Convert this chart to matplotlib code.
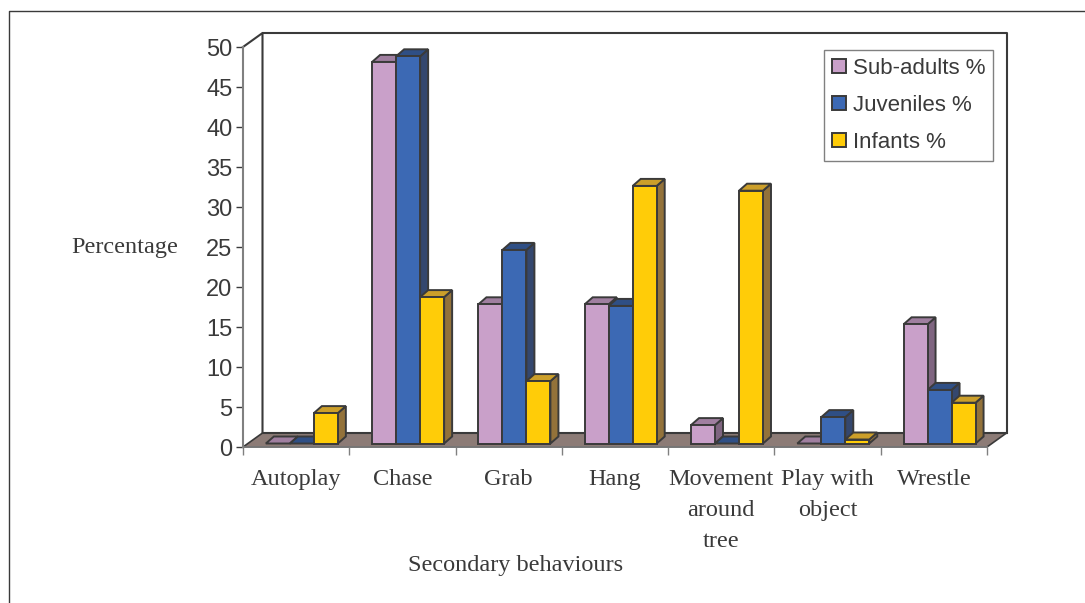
import matplotlib
matplotlib.use('Agg')
import matplotlib.pyplot as plt
from matplotlib.patches import Patch
from matplotlib.lines import Line2D

categories = ['Autoplay', 'Chase', 'Grab', 'Hang', 'Movement\naround\ntree', 'Play with\nobject', 'Wrestle']
sub_adults = [0, 47.7, 17.4, 17.4, 2.3, 0, 14.9]
juveniles = [0, 48.4, 24.2, 17.2, 0, 3.3, 6.7]
infants = [3.8, 18.3, 7.8, 32.2, 31.6, 0.5, 5.1]
series_names = ['Sub-adults %', 'Juveniles %', 'Infants %']
yticks = list(range(0, 55, 5))

# front, top, side colours of each series
colours = [('#c9a0c9', '#a07fa0', '#7f6580'),
           ('#3c69b4', '#2f4f85', '#34476e'),
           ('#ffcc08', '#cc9f2a', '#93723a')]
dark = '#3a3a3a'
gray = '#808080'

W, H = 1085, 603
fig = plt.figure(figsize=(W / 100, H / 100), dpi=100)
# axes = front plane of the fake 3d box
ax = fig.add_axes([243 / W, 1 - 447 / H, 744 / W, 400 / H])
ax.set_xlim(0, 7)
ax.set_ylim(0, 50)
px_x = 7 / 744
px_y = 50 / 400

# depth of the box and of the bars, given in pixels
wall_dx, wall_dy = 19.5 * px_x, 14 * px_y
bar_dx, bar_dy = 8 * px_x, 7 * px_y
base = 3.5 * px_y
bar_w = 24 * px_x
start = 0.215

# floor and walls
ax.fill([0, wall_dx, 7 + wall_dx, 7], [0, wall_dy, wall_dy, 0],
        facecolor='#8c7b76', edgecolor=dark, lw=1.2, zorder=1, clip_on=False)
ax.plot([0, wall_dx, wall_dx, 7 + wall_dx, 7 + wall_dx],
        [50, 50 + wall_dy, wall_dy, wall_dy, wall_dy], color=dark, lw=1.5, zorder=1.5, clip_on=False)
ax.plot([wall_dx, 7 + wall_dx, 7 + wall_dx], [50 + wall_dy, 50 + wall_dy, wall_dy],
        color=dark, lw=1.5, zorder=1.5, clip_on=False)

# bars
z = 2
for i in range(len(categories)):
    for j, values in enumerate([sub_adults, juveniles, infants]):
        v = values[i]
        x0 = i + start + j * bar_w
        x1 = x0 + bar_w
        top = base + v
        front, roof, side = colours[j]
        ax.fill([x1, x1 + bar_dx, x1 + bar_dx, x1], [base, base + bar_dy, top + bar_dy, top],
                facecolor=side, edgecolor=dark, lw=1.4, zorder=z, clip_on=False)
        ax.fill([x0, x0 + bar_dx, x1 + bar_dx, x1], [top, top + bar_dy, top + bar_dy, top],
                facecolor=roof, edgecolor=dark, lw=1.4, zorder=z + 0.1, clip_on=False)
        if v > 0:
            ax.bar(x0, v, bar_w, bottom=base, align='edge', color=front, edgecolor=dark,
                   lw=1.4, zorder=z + 0.2, clip_on=False)
        z += 1

# axes
for s in ['top', 'right']:
    ax.spines[s].set_visible(False)
ax.spines['left'].set_color(gray)
ax.spines['left'].set_linewidth(1.5)
ax.spines['bottom'].set_color(gray)
ax.spines['bottom'].set_linewidth(1.2)
ax.patch.set_alpha(0)

ax.set_yticks(yticks)
ax.tick_params(axis='y', length=5, width=1, color=dark, pad=2.5, labelsize=17, labelcolor=dark)
for t in ax.get_yticklabels():
    t.set_fontfamily('Liberation Sans')

ax.set_xticks(range(8))
ax.set_xticklabels([])
ax.tick_params(axis='x', which='major', length=6, width=1, color=gray)
ax.set_xticks([i + 0.5 for i in range(7)], minor=True)
ax.set_xticklabels(categories, minor=True, fontfamily='Liberation Serif', fontsize=17.5,
                   color=dark, linespacing=1.62)
ax.tick_params(axis='x', which='minor', length=0, pad=16)

ax.set_ylabel('Percentage', rotation=0, fontfamily='Liberation Serif', fontsize=17.5,
              color=dark, ha='center', va='center')
ax.yaxis.set_label_coords((124.5 - 243) / 744, (447 - 248) / 400)
ax.set_xlabel('Secondary behaviours', fontfamily='Liberation Serif', fontsize=17.5,
              color=dark, ha='center', va='center')
ax.xaxis.set_label_coords((516 - 243) / 744, (447 - 566) / 400)

# legend
handles = [Patch(facecolor=c[0], edgecolor=dark, lw=1.4) for c in colours]
leg = ax.legend(handles, series_names, loc='upper left',
                bbox_to_anchor=(824 / W, 1 - 50 / H), bbox_transform=fig.transFigure,
                prop={'family': 'Liberation Sans', 'size': 16}, labelcolor=dark,
                fancybox=False, framealpha=1, edgecolor=gray, borderaxespad=0,
                handlelength=0.62, handleheight=0.62, handletextpad=0.32,
                labelspacing=0.72, borderpad=0.36)
leg.get_frame().set_linewidth(1)
leg.set_zorder(100)

# outer frame of the page
fig.add_artist(Line2D([9 / W, 9 / W, 1], [0, 1 - 11 / H, 1 - 11 / H], color=dark, lw=1))

fig.savefig('out.png', dpi=100)
